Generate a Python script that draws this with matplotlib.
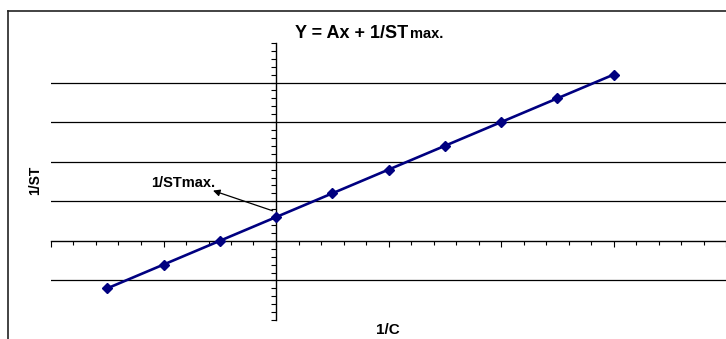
import matplotlib
matplotlib.use("Agg")
from matplotlib import pyplot as plt
from matplotlib.lines import Line2D
from matplotlib.ticker import MultipleLocator

plt.rcParams['font.family'] = ['Liberation Sans', 'DejaVu Sans']

# Reciprocal plot data (1/C vs 1/ST)
inv_c = [-1.5, -1.0, -0.5, 0.0, 0.5, 1.0, 1.5, 2.0, 2.5, 3.0]
inv_st = [-1.2, -0.6, 0.0, 0.6, 1.2, 1.8, 2.4, 3.0, 3.6, 4.2]
grid_levels = [-1, 1, 2, 3, 4]

W, H = 726, 339
fig = plt.figure(figsize=(W / 100, H / 100), dpi=100)

# plot area in pixel terms
left, right, top, bottom = 51, 726, 43, 320
ax = fig.add_axes([left / W, (H - bottom) / H, (right - left) / W, (bottom - top) / H])
ax.set_xlim(-2, 4)
ax.set_ylim(-2, 5)

for s in ['top', 'right']:
    ax.spines[s].set_visible(False)
ax.spines['left'].set_position(('data', 0))
ax.spines['bottom'].set_position(('data', 0))
for s in ['left', 'bottom']:
    ax.spines[s].set_linewidth(1.0)
    ax.spines[s].set_color('black')

ax.xaxis.set_major_locator(MultipleLocator(1))
ax.xaxis.set_minor_locator(MultipleLocator(0.2))
ax.yaxis.set_major_locator(MultipleLocator(1))
ax.yaxis.set_minor_locator(MultipleLocator(0.2))
ax.tick_params(which='both', direction='out', labelbottom=False, labelleft=False, width=0.8)
ax.tick_params(axis='x', which='major', length=4)
ax.tick_params(axis='x', which='minor', length=3)
ax.tick_params(axis='y', which='both', length=3.5)

# horizontal gridlines (none at the ends of the axis)
for g in grid_levels:
    ax.axhline(g, color='black', linewidth=0.9, zorder=1)

ax.plot(inv_c, inv_st, color='#000080', linewidth=1.9, marker='D', markersize=5, zorder=3)

# intercept label with arrow pointing to the text
ax.text(-0.54, 1.47, '1/STmax.', fontsize=10.5, fontweight='bold', ha='right', va='center')
ax.annotate('', xy=(-0.56, 1.27), xytext=(-0.03, 0.76),
            arrowprops=dict(arrowstyle='-|>', color='black', lw=0.9,
                            mutation_scale=10, shrinkA=0, shrinkB=0))

# title with smaller "max."
fig.text(408 / W, 1 - 33 / H, 'Y = Ax + 1/ST', fontsize=13, fontweight='bold',
         ha='right', va='center')
fig.text(410 / W, 1 - 34 / H, 'max.', fontsize=10.5, fontweight='bold',
         ha='left', va='center')

fig.text(388 / W, 1 - 330 / H, '1/C', fontsize=11, fontweight='bold',
         ha='center', va='center')
fig.text(35 / W, 1 - 180 / H, '1/ST', fontsize=10, fontweight='bold',
         ha='center', va='center', rotation=90)

# chart frame
fig.add_artist(Line2D([8 / W, 8 / W], [0, 1 - 11 / H], color='#222222', lw=1.2))
fig.add_artist(Line2D([8 / W, 1], [1 - 11 / H, 1 - 11 / H], color='#222222', lw=1.2))

fig.savefig('out.png', dpi=100)
